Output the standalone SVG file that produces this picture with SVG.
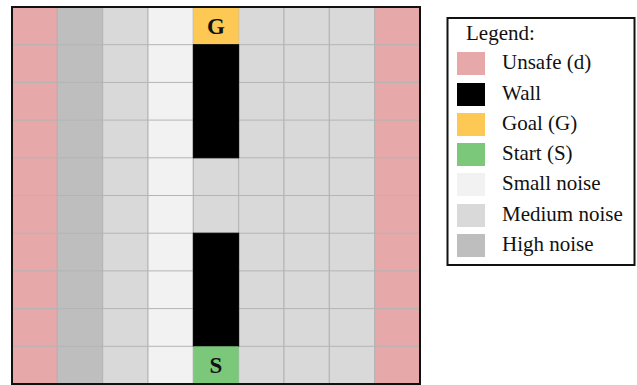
<svg xmlns="http://www.w3.org/2000/svg" width="637" height="385" viewBox="0 0 637 385">
<defs>
<style>
.c{stroke:#b4b4b4;stroke-width:1}
.u{fill:#e6a8a8}.h{fill:#bebebe}.m{fill:#d9d9d9}.s{fill:#f2f2f2}
.w{fill:#000;stroke:#000}.g{fill:#fdc854}.st{fill:#7bc87a}
.lbl{font-family:"Liberation Serif","DejaVu Serif",serif;font-size:21px;fill:#111}
.big{font-family:"Liberation Serif","DejaVu Serif",serif;font-size:23px;font-weight:bold;fill:#111}
</style>
</defs>
<rect width="637" height="385" fill="#fff"/>
<g id="grid">
<rect class="c u" x="12" y="7" width="45.33" height="377"/>
<rect class="c h" x="57.33" y="7" width="45.33" height="377"/>
<rect class="c m" x="102.67" y="7" width="45.33" height="377"/>
<rect class="c s" x="148" y="7" width="45.33" height="377"/>
<rect class="c m" x="193.33" y="7" width="45.33" height="377"/>
<rect class="c m" x="238.67" y="7" width="45.33" height="377"/>
<rect class="c m" x="284" y="7" width="45.33" height="377"/>
<rect class="c m" x="329.33" y="7" width="45.33" height="377"/>
<rect class="c u" x="374.67" y="7" width="45.33" height="377"/>
<g stroke="#b4b4b4" stroke-width="1">
<line x1="12" y1="44.7" x2="420" y2="44.7"/>
<line x1="12" y1="82.4" x2="420" y2="82.4"/>
<line x1="12" y1="120.1" x2="420" y2="120.1"/>
<line x1="12" y1="157.8" x2="420" y2="157.8"/>
<line x1="12" y1="195.5" x2="420" y2="195.5"/>
<line x1="12" y1="233.2" x2="420" y2="233.2"/>
<line x1="12" y1="270.9" x2="420" y2="270.9"/>
<line x1="12" y1="308.6" x2="420" y2="308.6"/>
<line x1="12" y1="346.3" x2="420" y2="346.3"/>
</g>
</g>
<g id="goal">
<rect class="g" x="193.33" y="7" width="45.33" height="37.7"/>
<text class="big" x="216" y="34" text-anchor="middle">G</text>
</g>
<g id="wall-top">
<rect class="w" x="193.33" y="44.7" width="45.33" height="113.1"/>
</g>
<g id="wall-bottom">
<rect class="w" x="193.33" y="233.2" width="45.33" height="113.1"/>
</g>
<g id="start">
<rect class="st" x="193.33" y="346.3" width="45.33" height="37.7"/>
<text class="big" x="216" y="373" text-anchor="middle">S</text>
</g>
<rect x="12" y="7" width="408" height="377" fill="none" stroke="#111" stroke-width="2"/>
<g id="legend">
<rect x="447.5" y="18" width="187" height="247" fill="#fff" stroke="#111" stroke-width="2"/>
<text class="lbl" x="466" y="40">Legend:</text>
<rect class="u" x="457" y="52" width="28" height="23"/>
<text class="lbl" x="502" y="69">Unsafe (d)</text>
<rect fill="#000" x="457" y="83" width="28" height="23"/>
<text class="lbl" x="502" y="100">Wall</text>
<rect class="g" x="457" y="113" width="28" height="23"/>
<text class="lbl" x="502" y="130">Goal (G)</text>
<rect class="st" x="457" y="143" width="28" height="23"/>
<text class="lbl" x="502" y="160">Start (S)</text>
<rect class="s" x="457" y="173" width="28" height="23"/>
<text class="lbl" x="502" y="190">Small noise</text>
<rect class="m" x="457" y="204" width="28" height="23"/>
<text class="lbl" x="502" y="221">Medium noise</text>
<rect class="h" x="457" y="234" width="28" height="23"/>
<text class="lbl" x="502" y="251">High noise</text>
</g>
</svg>
